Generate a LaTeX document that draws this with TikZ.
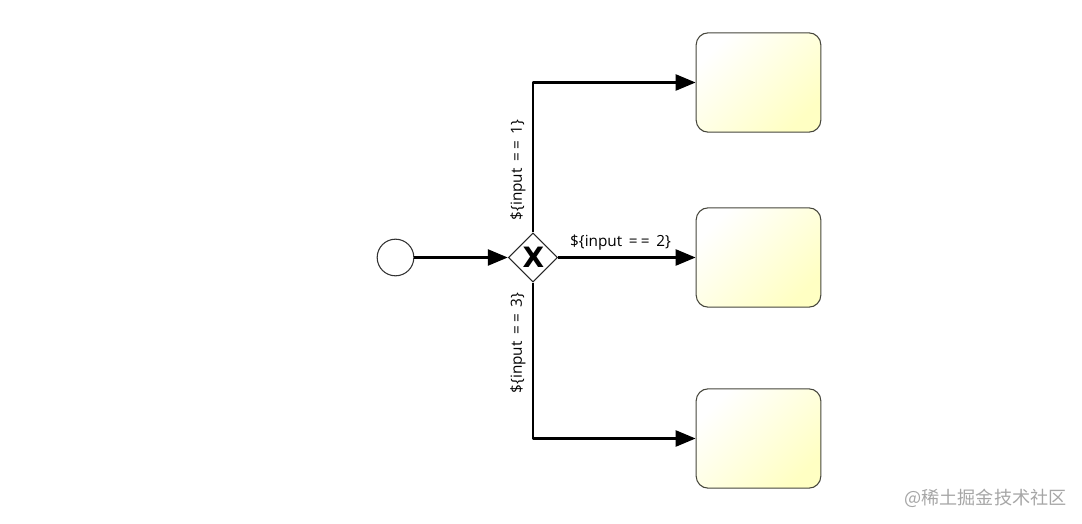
\documentclass[tikz,border=0pt]{standalone}
\usepackage{fontspec}
\setmainfont{Open Sans}
\newfontfamily\cjk{Noto Sans CJK SC}
\newfontfamily\heavy{DejaVu Sans Bold}
\usetikzlibrary{arrows.meta,shapes.geometric}
\definecolor{boxline}{RGB}{70,70,60}
\definecolor{boxfill}{RGB}{255,255,195}
\tikzset{
  flow/.style={line width=1.9pt,-{Triangle[length=15pt,width=12pt]}},
  usertask/.style={draw=boxline,line width=0.8pt,rounded corners=9pt,minimum width=93.5pt,minimum height=74.5pt,inner sep=0pt,shading=axis,left color=white,middle color=boxfill!70!white,right color=boxfill,shading angle=45},
  lbl/.style={font=\fontsize{11.5}{13}\selectfont,inner sep=0pt}
}
\newcommand{\condtext}[1]{\$\{input\ \,=\kern2.5pt=\ \,#1\}}
\begin{document}
\begin{tikzpicture}[line join=round,x=0.75pt,y=-0.75pt]
\useasboundingbox (0,0) rectangle (1082,524);
\node[circle,draw=black!80,line width=0.8pt,minimum size=27.5pt,inner sep=0pt] (start) at (395.5,257.5) {};
\node[diamond,draw=black!85,line width=0.8pt,minimum size=37pt,inner sep=0pt,aspect=1] (gate) at (533,257.5) {};
\node[usertask] (task1) at (758.5,82.5) {};
\node[usertask] (task2) at (758.5,257.5) {};
\node[usertask] (task3) at (758.5,438.5) {};
\node[inner sep=0pt,font=\heavy\fontsize{21}{22}\selectfont] (cross) at (533.5,257.5) {X};
\draw[flow] (start) -- (gate);
\draw[flow] (gate) -- (task2);
\draw[flow] (gate.north) |- (task1.west);
\draw[flow] (gate.south) |- (task3.west);
\node[lbl,rotate=90] (cond1) at (518,170) {\condtext{1}};
\node[lbl] (cond2) at (620.5,242.5) {\condtext{2}};
\node[lbl,rotate=90] (cond3) at (518,343) {\condtext{3}};
\node[text=black!35,inner sep=0pt,font=\cjk\fontsize{13.6}{16}\selectfont] (mark) at (985.5,498) {@稀土掘金技术社区};
\end{tikzpicture}
\end{document}
